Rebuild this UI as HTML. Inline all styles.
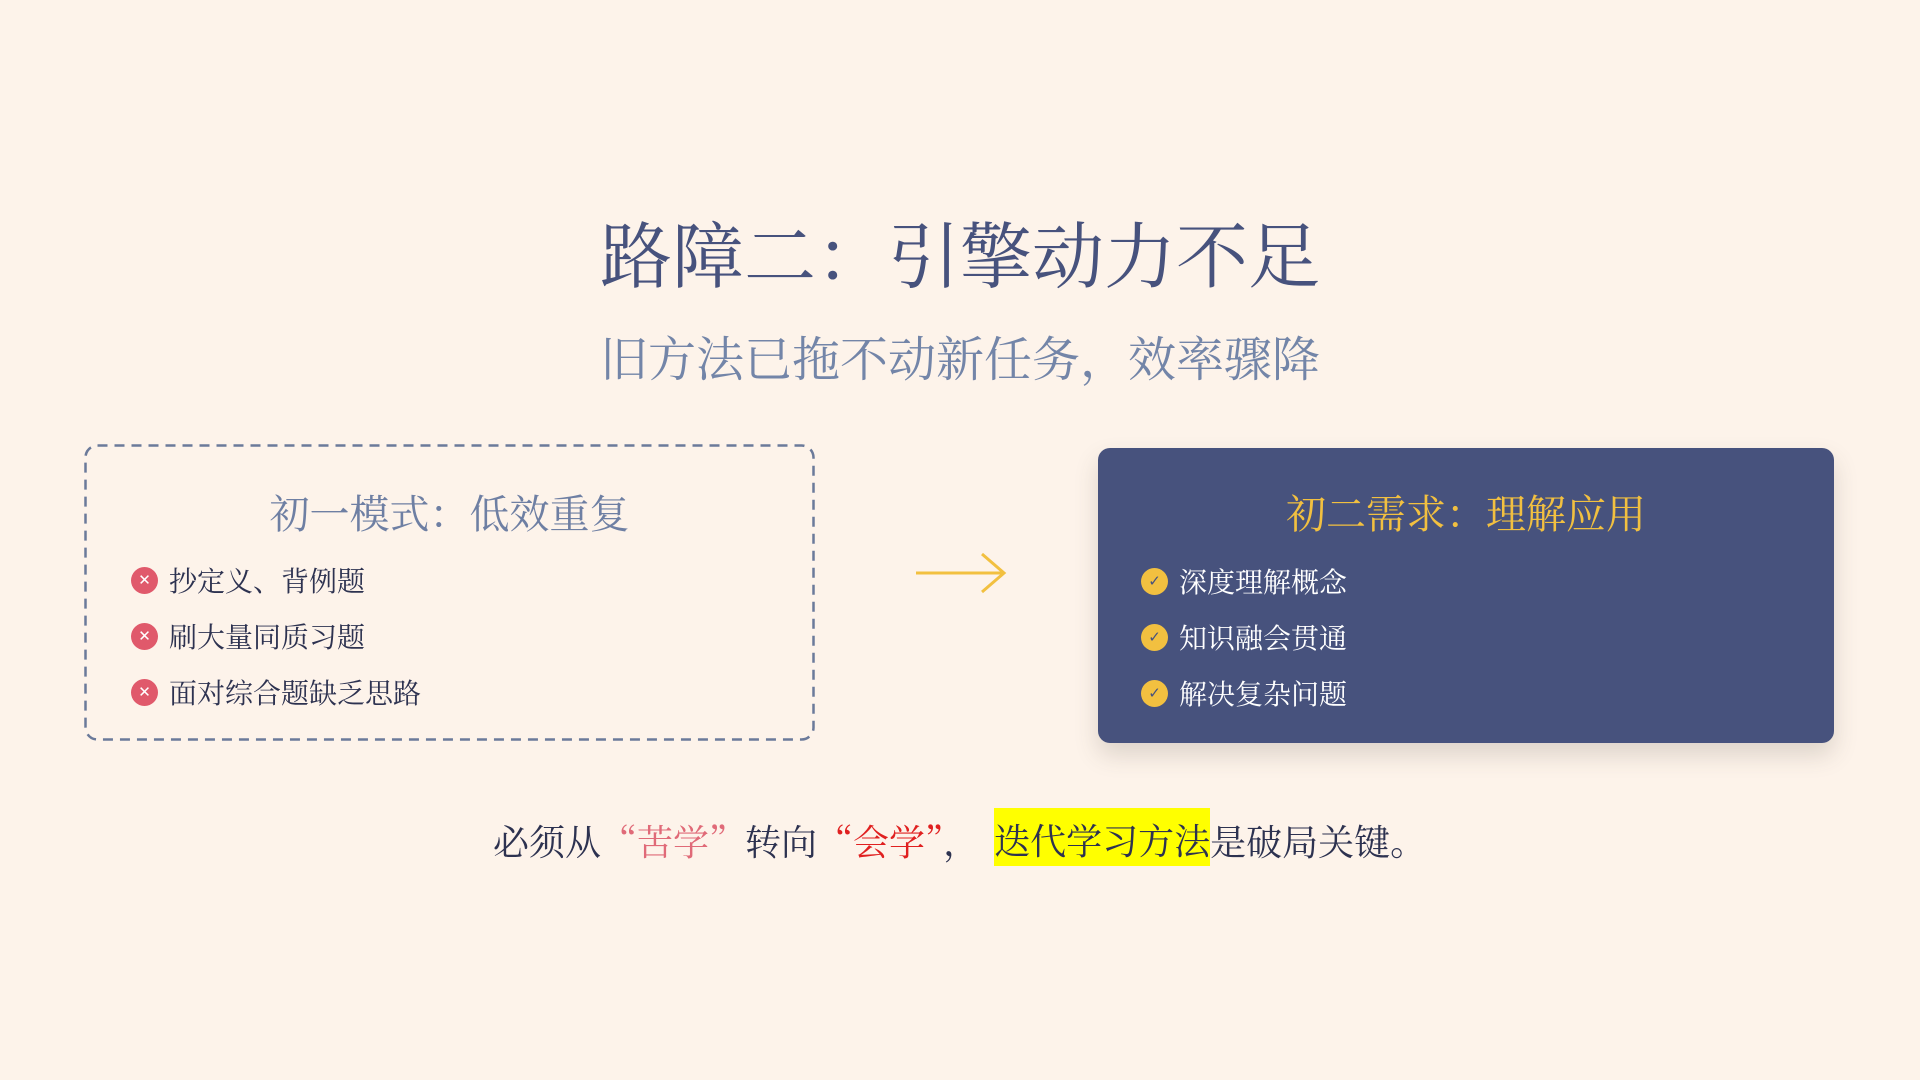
<!DOCTYPE html>
<html><head><meta charset="utf-8"><style>
*{margin:0;padding:0;box-sizing:border-box}
body{width:1920px;height:1080px;background:#fdf3ea;font-family:"Noto Serif CJK SC","Liberation Serif",serif;position:relative;overflow:hidden}
.abs{position:absolute}
.title{left:0;width:1920px;top:201px;text-align:center;font-size:72px;color:#47527d;line-height:100px}
.sub{left:0;width:1920px;top:326px;text-align:center;font-size:48px;color:#7385a8;line-height:60px}
.lbox{left:84px;top:444px;width:731px;height:297px}
.rbox{left:1098px;top:448px;width:736px;height:295px;background:#47527d;border-radius:12px;box-shadow:0 12px 24px rgba(80,70,60,0.18)}
.h{position:absolute;left:0;right:0;top:38px;text-align:center;font-size:40px;line-height:56px}
.item{position:absolute;font-size:28px;line-height:36px;display:flex;align-items:center}
.ic{width:27px;height:27px;border-radius:50%;display:inline-flex;align-items:center;justify-content:center;font-family:"DejaVu Sans",sans-serif;font-size:15px;font-weight:bold;margin-right:11px}
.x{background:#e0596b;color:#fff}
.c{background:#f2c040;color:#47527d}
.bottom{left:493px;top:814px;font-size:36px;line-height:50px;color:#2d3250;white-space:nowrap}
.hl{background:#ffff00;display:inline-block;padding-top:6px;margin-top:-6px;line-height:52px;vertical-align:bottom}
</style></head><body>
<div class="abs title">路障二：引擎动力不足</div>
<div class="abs sub">旧方法已拖不动新任务，效率骤降</div>
<div class="abs lbox">
 <svg class="abs" style="left:0;top:0" width="731" height="297"><rect x="1.5" y="1.5" width="728" height="294" rx="12" fill="none" stroke="#6b7a9a" stroke-width="2.5" stroke-dasharray="10 7"/></svg>
 <div class="h" style="color:#6e7fa3;top:40px">初一模式：低效重复</div>
 <div class="item" style="left:47px;top:118px;color:#2d3250"><span class="ic x">✕</span>抄定义、背例题</div>
 <div class="item" style="left:47px;top:174px;color:#2d3250"><span class="ic x">✕</span>刷大量同质习题</div>
 <div class="item" style="left:47px;top:230px;color:#2d3250"><span class="ic x">✕</span>面对综合题缺乏思路</div>
</div>
<svg class="abs" style="left:910px;top:548px" width="100" height="50"><path d="M6 25 H92 M72 6 L94 25 L72 44" stroke="#f2c040" stroke-width="3" fill="none"/></svg>
<div class="abs rbox">
 <div class="h" style="color:#f2c040;top:36px">初二需求：理解应用</div>
 <div class="item" style="left:43px;top:115px;color:#fff"><span class="ic c">✓</span>深度理解概念</div>
 <div class="item" style="left:43px;top:171px;color:#fff"><span class="ic c">✓</span>知识融会贯通</div>
 <div class="item" style="left:43px;top:227px;color:#fff"><span class="ic c">✓</span>解决复杂问题</div>
</div>
<div class="abs bottom">必须从<span style="color:#e06a78">“苦学”</span>转向<span style="color:#e02020">“会学”</span><span style="margin-right:15px">，</span><span class="hl">迭代学习方法</span>是破局关键。</div>
</body></html>
